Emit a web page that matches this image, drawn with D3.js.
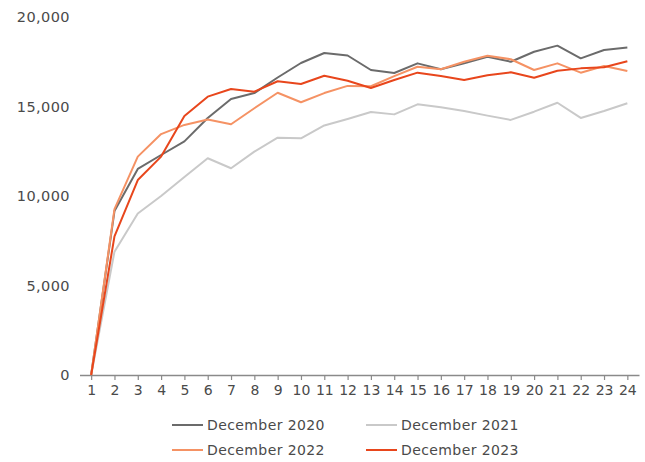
<!DOCTYPE html>
<html>
<head>
<meta charset="utf-8">
<script src="https://cdn.jsdelivr.net/npm/d3@7"></script>
<style>
  body { margin: 0; background: #fff; }
  text { font-family: "DejaVu Sans", sans-serif; fill: #4a4a4a; }
</style>
</head>
<body>
<div id="chart"></div>
<script>
const months = d3.range(1, 25).map(String);

const dec2020 = [0, 9160, 11510, 12290, 13050, 14360, 15420, 15750, 16620, 17430, 17990, 17850,
  17040, 16870, 17410, 17080, 17410, 17780, 17500, 18060, 18400, 17690, 18160, 18290];
const dec2021 = [0, 6890, 9020, 10000, 11060, 12110, 11550, 12480, 13260, 13220, 13940, 14300,
  14690, 14560, 15120, 14960, 14750, 14490, 14250, 14710, 15210, 14360, 14750, 15180];
const dec2022 = [0, 9270, 12200, 13460, 13970, 14270, 14010, 14900, 15770, 15240, 15750, 16150,
  16130, 16700, 17220, 17080, 17500, 17840, 17640, 17040, 17410, 16890, 17260, 16980];
const dec2023 = [0, 7740, 10890, 12200, 14470, 15550, 15980, 15830, 16410, 16260, 16720, 16440,
  16030, 16480, 16890, 16700, 16480, 16740, 16910, 16610, 17000, 17130, 17190, 17530];

const seriesNames = ["December 2020", "December 2021", "December 2022", "December 2023"];
const seriesValues = [dec2020, dec2021, dec2022, dec2023];
const seriesColors = ["#6b6b6b", "#c9c9c9", "#f59264", "#e8461c"];
const yTicks = [0, 5000, 10000, 15000, 20000];

const width = 645;
const height = 462;

const svg = d3.select("#chart")
  .append("svg")
  .attr("width", width)
  .attr("height", height);

const x = d3.scalePoint()
  .domain(months)
  .range([79.5, 639])
  .padding(0.5);

const y = d3.scaleLinear()
  .domain([0, 20000])
  .range([375, 17]);

// y labels only, no axis line
svg.append("g")
  .selectAll("text")
  .data(yTicks)
  .enter()
  .append("text")
  .attr("x", 70)
  .attr("y", d => y(d))
  .attr("dy", "0.35em")
  .attr("text-anchor", "end")
  .attr("font-size", "14.5px")
  .attr("letter-spacing", "0.4px")
  .text(d => d3.format(",")(d));

const xAxis = svg.append("g")
  .attr("transform", "translate(0," + y(0) + ")")
  .call(d3.axisBottom(x).tickSize(5).tickSizeOuter(0));

xAxis.select(".domain").attr("stroke", "#8a8a8a").attr("stroke-width", 1.5);
xAxis.selectAll(".tick line").attr("stroke", "#8a8a8a").attr("stroke-width", 1.2);
xAxis.selectAll(".tick text")
  .attr("font-size", "14px")
  .attr("font-family", "'DejaVu Sans', sans-serif")
  .attr("fill", "#4a4a4a")
  .attr("dy", "0.85em");

const line = d3.line()
  .x((d, i) => x(months[i]))
  .y(d => y(d));

svg.append("g")
  .selectAll("path")
  .data(seriesValues)
  .enter()
  .append("path")
  .attr("d", line)
  .attr("fill", "none")
  .attr("stroke", (d, i) => seriesColors[i])
  .attr("stroke-width", 2)
  .attr("stroke-linejoin", "round");

// legend, two columns x two rows
const legend = svg.append("g")
  .selectAll("g")
  .data(seriesNames)
  .enter()
  .append("g")
  .attr("transform", (d, i) => "translate(" + (i % 2 === 0 ? 172 : 366) + "," + (i < 2 ? 425 : 450) + ")");

legend.append("line")
  .attr("x1", 0)
  .attr("x2", 31)
  .attr("stroke", (d, i) => seriesColors[i])
  .attr("stroke-width", 2);

legend.append("text")
  .attr("x", 35)
  .attr("dy", "0.35em")
  .attr("font-size", "14px")
  .attr("letter-spacing", "0.4px")
  .text(d => d);
</script>
</body>
</html>
